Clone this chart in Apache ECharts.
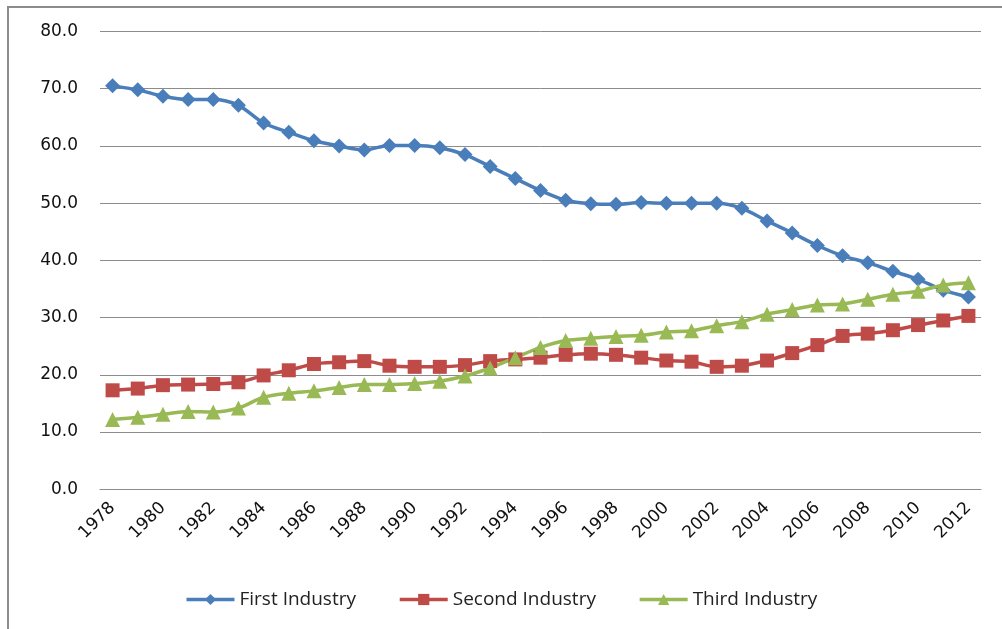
<!DOCTYPE html>
<html>
<head>
<meta charset="utf-8">
<script src="https://cdn.jsdelivr.net/npm/echarts@6/dist/echarts.min.js"></script>
<style>html,body{margin:0;padding:0;background:#fff;}#c{width:1002px;height:629px;}</style>
</head>
<body>
<div id="c"></div>
<script>
const years = ['1978','1979','1980','1981','1982','1983','1984','1985','1986','1987','1988','1989','1990','1991','1992','1993','1994','1995','1996','1997','1998','1999','2000','2001','2002','2003','2004','2005','2006','2007','2008','2009','2010','2011','2012'];
const firstIndustry = [70.5,69.8,68.7,68.1,68.1,67.1,64.0,62.4,60.9,60.0,59.3,60.1,60.1,59.7,58.5,56.4,54.3,52.2,50.5,49.9,49.8,50.1,50.0,50.0,50.0,49.1,46.9,44.8,42.6,40.8,39.6,38.1,36.7,34.8,33.6];
const secondIndustry = [17.3,17.6,18.2,18.3,18.4,18.7,19.9,20.8,21.9,22.2,22.4,21.6,21.4,21.4,21.7,22.4,22.7,23.0,23.5,23.7,23.5,23.0,22.5,22.3,21.4,21.6,22.5,23.8,25.2,26.8,27.2,27.8,28.7,29.5,30.3];
const thirdIndustry = [12.2,12.6,13.1,13.6,13.5,14.2,16.1,16.8,17.2,17.8,18.3,18.3,18.5,18.9,19.8,21.2,23.0,24.8,26.0,26.4,26.7,26.9,27.5,27.7,28.6,29.3,30.6,31.4,32.2,32.4,33.2,34.1,34.6,35.7,36.1];
const seriesNames = ['First Industry','Second Industry','Third Industry'];

const chart = echarts.init(document.getElementById('c'), null, {renderer:'canvas'});
const mk = (name, data, color, symbol, size) => ({
  name, type:'line', data, smooth:0.3, symbol, symbolSize:size,
  lineStyle:{color, width:3.5}, itemStyle:{color}, animation:false
});
chart.setOption({
  animation:false,
  graphic:[{type:'rect', shape:{x:8, y:7, width:1100, height:700}, style:{fill:'none', stroke:'#8c8c8c', lineWidth:2}, silent:true}],
  grid:{left:100, right:21, top:31.5, bottom:139.7},
  legend:{
    bottom:15, left:'center', itemWidth:48, itemHeight:14, itemGap:42,
    lineStyle:{width:3.5},
    textStyle:{fontFamily:'Open Sans', fontSize:19, color:'#222'},
    data:seriesNames
  },
  xAxis:{
    type:'category', data:years, boundaryGap:true,
    axisLine:{lineStyle:{color:'#8c8c8c', width:1}},
    axisTick:{show:false},
    axisLabel:{interval:1, rotate:45, margin:16, fontFamily:'DejaVu Sans', fontSize:17, color:'#111'}
  },
  yAxis:{
    type:'value', min:0, max:80, interval:10,
    axisLine:{show:false}, axisTick:{show:false},
    splitLine:{lineStyle:{color:'#8c8c8c', width:1}},
    axisLabel:{margin:22, fontFamily:'DejaVu Sans', fontSize:17, color:'#111', formatter:v=>v.toFixed(1)}
  },
  series:[
    mk(seriesNames[0], firstIndustry, '#4a7ebb', 'diamond', 15),
    mk(seriesNames[1], secondIndustry, '#be4b48', 'rect', 14),
    mk(seriesNames[2], thirdIndustry, '#98b954', 'triangle', 15)
  ]
});
</script>
</body>
</html>
